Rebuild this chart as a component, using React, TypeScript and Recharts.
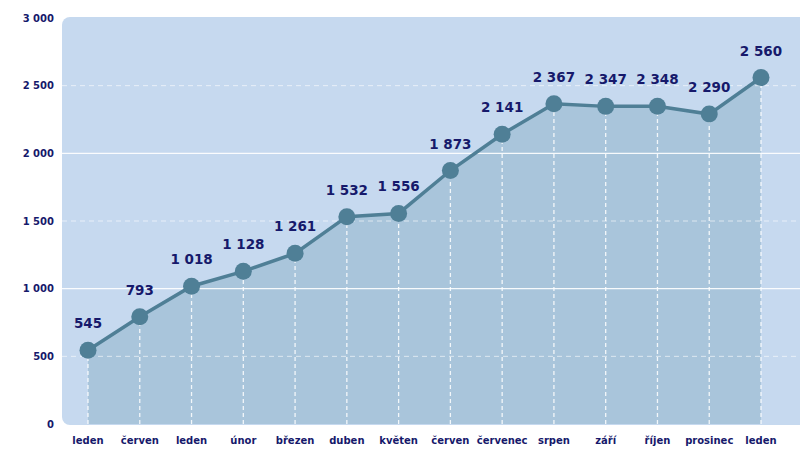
import React from 'react';
import { ComposedChart, Area, Line, XAxis, YAxis, ReferenceLine } from 'recharts';

const monthLabels = ['leden', 'červen', 'leden', 'únor', 'březen', 'duben', 'květen', 'červen', 'červenec', 'srpen', 'září', 'říjen', 'prosinec', 'leden'];
const values = [545, 793, 1018, 1128, 1261, 1532, 1556, 1873, 2141, 2367, 2347, 2348, 2290, 2560];
const yTicks = [0, 500, 1000, 1500, 2000, 2500, 3000];
const majorGrid = [1000, 2000];
const minorGrid = [500, 1500, 2500];

const data = values.map((v, i) => ({ id: i, value: v }));

const NAVY = '#16196b';
const LINE = '#4f7f96';

const fmt = (n: number) => String(n).replace(/\B(?=(\d{3})+(?!\d))/g, ' ');

const ValueLabel = (props: any) => {
  const { x, y, value } = props;
  return (
    <text x={x} y={y - 22} textAnchor="middle" fill={NAVY} fontSize={13.5} fontWeight="bold" fontFamily="DejaVu Sans">
      {fmt(value)}
    </text>
  );
};

export default function App() {
  return (
    <div style={{ position: 'fixed', left: 0, top: 0, width: 800, height: 449, background: '#fff', overflow: 'hidden' }}>
      <div
        style={{
          position: 'absolute',
          left: 62,
          top: 17,
          width: 760,
          height: 408,
          borderRadius: 8,
          background: '#c6d9ef',
        }}
      />
      <div style={{ position: 'absolute', left: 0, top: 0 }}>
        <ComposedChart width={800} height={449} data={data} margin={{ top: 18, right: 0, left: 0, bottom: 0 }}>
          <XAxis
            dataKey="id"
            type="category"
            padding={{ left: 26, right: 39 }}
            tickFormatter={(i: number) => monthLabels[i]}
            axisLine={false}
            tickLine={false}
            interval={0}
            height={25}
            tick={{ fill: NAVY, fontSize: 10, fontWeight: 'bold', fontFamily: 'DejaVu Sans', dy: 5 }}
          />
          <YAxis
            domain={[0, 3000]}
            ticks={yTicks}
            tickFormatter={fmt}
            axisLine={false}
            tickLine={false}
            width={62}
            tick={{ fill: NAVY, fontSize: 10, fontWeight: 'bold', fontFamily: 'DejaVu Sans' }}
          />
          <Area
            dataKey="value"
            type="linear"
            stroke="none"
            fill="#a9c5db"
            fillOpacity={1}
            dot={false}
            activeDot={false}
            isAnimationActive={false}
          />
          {majorGrid.map((g) => (
            <ReferenceLine key={'M' + g} y={g} stroke="#ffffff" strokeWidth={1.2} strokeOpacity={0.9} />
          ))}
          {minorGrid.map((g) => (
            <ReferenceLine key={'m' + g} y={g} stroke="#ffffff" strokeWidth={1} strokeOpacity={0.6} strokeDasharray="5 4" />
          ))}
          {data.map((d) => (
            <ReferenceLine
              key={'v' + d.id}
              segment={[{ x: d.id, y: 0 }, { x: d.id, y: d.value }]}
              stroke="#ffffff"
              strokeOpacity={0.85}
              strokeWidth={1.3}
              strokeDasharray="4 3"
            />
          ))}
          <Line
            dataKey="value"
            type="linear"
            stroke={LINE}
            strokeWidth={3.5}
            dot={{ r: 8.5, fill: LINE, stroke: 'none' }}
            activeDot={false}
            label={<ValueLabel />}
            isAnimationActive={false}
          />
        </ComposedChart>
      </div>
    </div>
  );
}
